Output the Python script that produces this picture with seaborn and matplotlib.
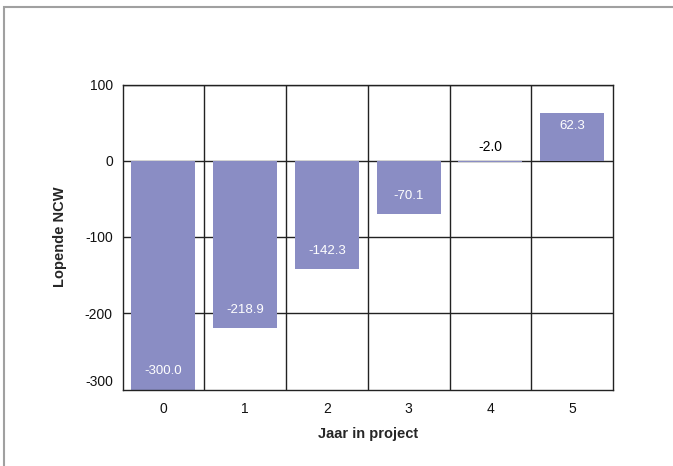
import matplotlib
matplotlib.use("Agg")
import matplotlib.pyplot as plt
import matplotlib.patches as mpatches
import seaborn as sns
import pandas as pd

# Cumulative NPV per project year
years = ["0", "1", "2", "3", "4", "5"]
ncw = [-300.0, -218.9, -142.3, -70.1, -2.0, 62.3]
y_ticks = [100, 0, -100, -200, -300]

bar_color = "#8a8dc4"

sns.set_style("white")
plt.rcParams["font.family"] = ["Liberation Sans", "DejaVu Sans"]
plt.rcParams["axes.unicode_minus"] = False

df = pd.DataFrame({"Jaar": years, "NCW": ncw})

fig = plt.figure(figsize=(6.73, 4.66), dpi=100)
ax = fig.add_axes([122.5 / 673, 76.5 / 466, 490.5 / 673, 305 / 466])

# Outer chart frame
fig.patches.append(mpatches.Rectangle((4 / 673, -0.05), 1.2, (466 - 7) / 466 + 0.05,
                                      transform=fig.transFigure, fill=False,
                                      edgecolor="#a0a0a0", linewidth=1.5, zorder=0))

sns.barplot(data=df, x="Jaar", y="NCW", color=bar_color, width=0.78,
            saturation=1, linewidth=0, ax=ax)
for p in ax.patches:
    p.set_zorder(3)

ax.set_ylim(-300, 100)
ax.set_xlim(-0.5, 5.5)
ax.set_yticks(y_ticks)

# Grid: horizontal at the ticks, vertical between categories
for yv in [100, 0, -100, -200]:
    ax.axhline(yv, color="#222222", linewidth=1, zorder=1)
for xv in [0.5, 1.5, 2.5, 3.5, 4.5]:
    ax.axvline(xv, color="#222222", linewidth=1, zorder=1)

for side in ["left", "right", "top", "bottom"]:
    ax.spines[side].set_visible(True)
    ax.spines[side].set_color("#222222")
    ax.spines[side].set_linewidth(1)
    ax.spines[side].set_zorder(4)

ax.tick_params(axis="both", length=0, labelsize=10, colors="#111111")
ax.tick_params(axis="y", pad=7)
ax.tick_params(axis="x", pad=9)
# Lowest y tick label sits a little above the floor
ax.get_yticklabels()[-1].set_va("bottom")

ax.set_xlabel("Jaar in project", fontsize=10.5, fontweight="bold", labelpad=8)
ax.set_ylabel("Lopende NCW", fontsize=10.5, fontweight="bold", labelpad=13)

# Value labels at the inner end of each bar
for i, v in enumerate(ncw):
    if abs(v) < 10:
        ax.annotate(f"{v:.1f}", (i, 0), xytext=(0, 10), textcoords="offset points",
                    ha="center", va="center", fontsize=10, color="black", zorder=5)
    elif v < 0:
        ax.annotate(f"{v:.1f}", (i, v), xytext=(0, 13),
                    textcoords="offset points", ha="center", va="center",
                    fontsize=9.5, color="white", zorder=5)
    else:
        ax.annotate(f"{v:.1f}", (i, v), xytext=(0, -9.5), textcoords="offset points",
                    ha="center", va="center", fontsize=9.5, color="white", zorder=5)

fig.savefig("out.png", dpi=100)
